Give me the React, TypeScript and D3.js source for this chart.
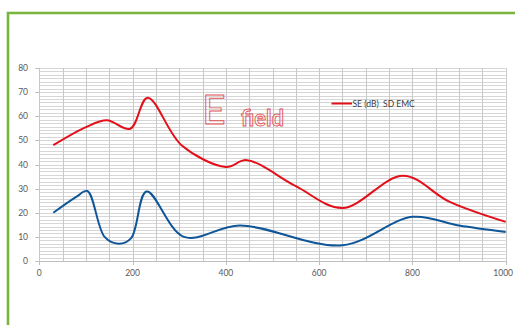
import React from 'react';
import * as d3 from 'd3';

const xTicks = [0, 200, 400, 600, 800, 1000];
const yTicks = [0, 10, 20, 30, 40, 50, 60, 70, 80];
const redX = [30, 100, 145, 195, 232, 305, 400, 445, 550, 650, 780, 880, 1000];
const redY = [48, 55.5, 58.3, 54.8, 67.7, 48, 39, 41.8, 31, 22, 35.3, 24.5, 16.2];
const blueX = [30, 80, 103, 140, 170, 197, 230, 310, 430, 650, 800, 900, 1000];
const blueY = [20, 26.7, 29, 10, 7.2, 9.5, 28.8, 10, 14.7, 6.5, 18.3, 14.7, 12];
const legendLabel = 'SE (dB)  SD EMC';

const W = 515, H = 325;
const X0 = 39.3, X1 = 505.7, YT = 68, YB = 261;

export default function App() {
  const x = d3.scaleLinear().domain([0, 1000]).range([X0, X1]);
  const y = d3.scaleLinear().domain([0, 80]).range([YB, YT]);
  const line = d3.line<[number, number]>()
    .x(d => x(d[0])).y(d => y(d[1]))
    .curve(d3.curveCatmullRom.alpha(0.5));
  const red = redX.map((v, i) => [v, redY[i]] as [number, number]);
  const blue = blueX.map((v, i) => [v, blueY[i]] as [number, number]);
  const minorY = d3.range(0, 80 + 1e-6, 10 / 7);
  const minorX = d3.range(0, 1001, 50);
  const font = 'Lato, "Open Sans", sans-serif';
  return (
    <svg width={W} height={H} style={{ position: 'absolute', left: 0, top: 0, background: '#fff' }}>
      <path d={`M8,325 L8,13 L515,13`} fill="none" stroke="#78b53c" strokeWidth={2.6} />
      {minorY.map((v, i) => (
        <line key={'gy' + i} x1={X0} x2={X1} y1={Math.round(y(v)) + 0.5} y2={Math.round(y(v)) + 0.5} stroke="#d6d6d6" strokeWidth={1} />
      ))}
      {minorX.map((v, i) => (
        <line key={'gx' + i} y1={YT} y2={YB} x1={Math.round(x(v)) + 0.5} x2={Math.round(x(v)) + 0.5} stroke="#c8c8c8" strokeWidth={1} />
      ))}
      <line x1={X0} x2={X1} y1={YB + 0.5} y2={YB + 0.5} stroke="#bfbfbf" />
      {yTicks.map(t => (
        <g key={'yt' + t}>
          <line x1={X0 - 4} x2={X0} y1={Math.round(y(t)) + 0.5} y2={Math.round(y(t)) + 0.5} stroke="#bfbfbf" />
          <text x={28} y={y(t) + 3} textAnchor="end" fontSize={8.5} fill="#595959" fontFamily={font}>{t}</text>
        </g>
      ))}
      {xTicks.map(t => (
        <g key={'xt' + t}>
          <line x1={Math.round(x(t)) + 0.5} x2={Math.round(x(t)) + 0.5} y1={YB} y2={YB + 4} stroke="#bfbfbf" />
          <text x={t === 1000 ? 513 : x(t)} y={276} textAnchor={t === 1000 ? 'end' : 'middle'} fontSize={8.5} fill="#595959" fontFamily={font}>{t}</text>
        </g>
      ))}
      <path d={line(red) || ''} fill="none" stroke="#e3101a" strokeWidth={2} />
      <path d={line(blue) || ''} fill="none" stroke="#0f5699" strokeWidth={2} />
      <text x={202} y={124} fontSize={41} fill="none" stroke="#e0555a" strokeWidth={0.9} fontFamily="Lato, sans-serif" fontWeight={400}>E</text>
      <text x={241} y={126} fontSize={22} fill="none" stroke="#e0555a" strokeWidth={0.9} fontFamily="Lato, sans-serif" fontWeight={700}>field</text>
      <line x1={331.5} x2={352} y1={103.5} y2={103.5} stroke="#e3101a" strokeWidth={2} />
      <text x={352.5} y={106.5} fontSize={8.5} fill="#404040" fontFamily={font} style={{ whiteSpace: 'pre' }}>{legendLabel}</text>
    </svg>
  );
}
